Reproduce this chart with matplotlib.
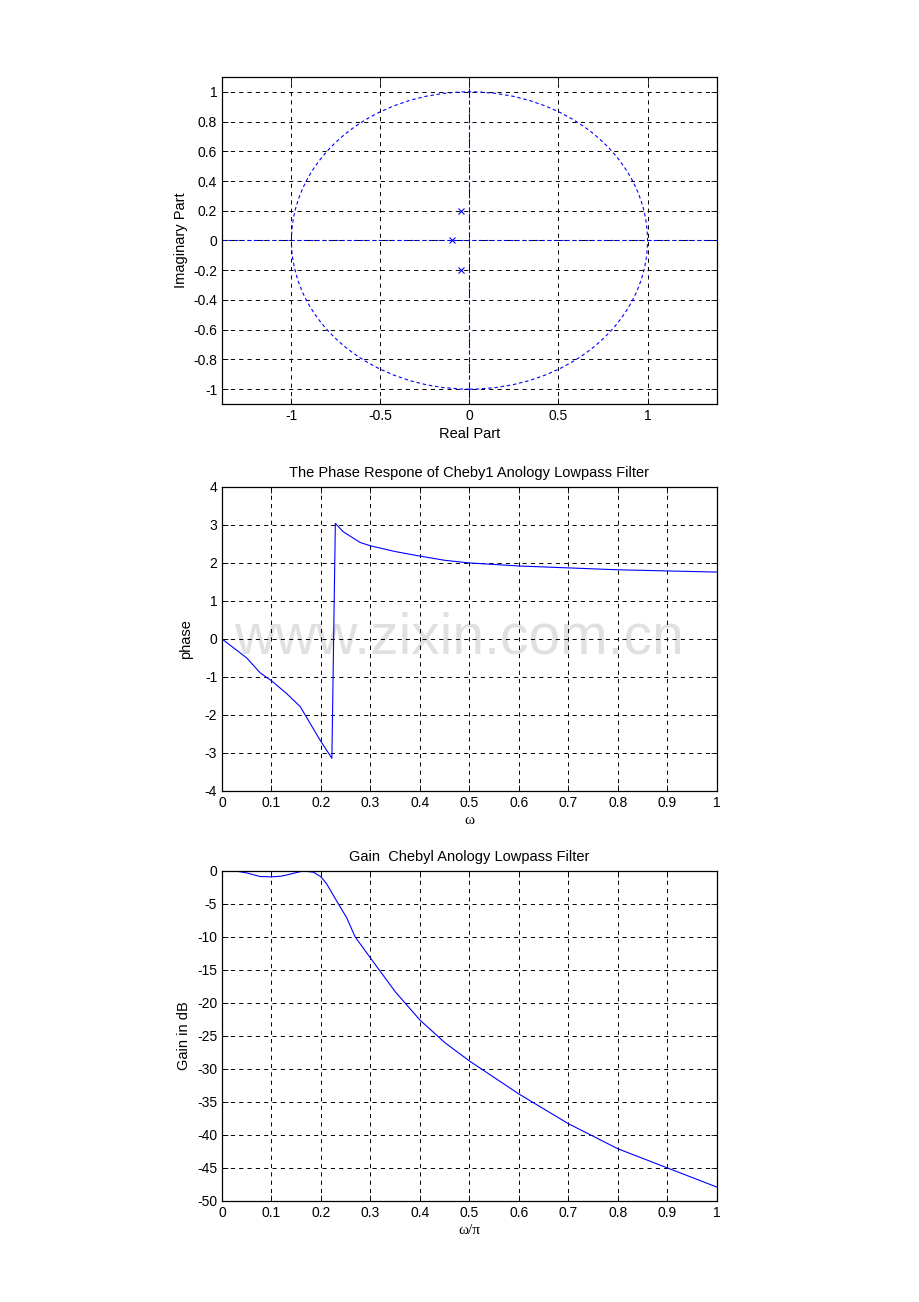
import matplotlib.pyplot as plt
from matplotlib.patches import Circle

# Pole-zero plot (poles only)
pole_re = [-0.048, -0.098, -0.048]
pole_im = [0.197, 0.0, -0.197]

# Phase response
phase_w = [0, 0.025, 0.05, 0.077, 0.1, 0.13, 0.158, 0.178, 0.198, 0.222,
           0.229, 0.245, 0.279, 0.3, 0.35, 0.4, 0.45, 0.5, 0.6, 0.7, 0.8, 0.9, 1.0]
phase = [0, -0.25, -0.5, -0.89, -1.1, -1.43, -1.78, -2.22, -2.66, -3.14,
         3.04, 2.82, 2.54, 2.45, 2.3, 2.18, 2.07, 2.0, 1.92, 1.87, 1.82, 1.79, 1.76]

# Gain in dB
gain_w = [0, 0.03, 0.05, 0.077, 0.1, 0.12, 0.14, 0.164, 0.185, 0.2, 0.211, 0.232,
          0.252, 0.269, 0.299, 0.35, 0.4, 0.45, 0.5, 0.6, 0.7, 0.8, 0.9, 1.0]
gain = [0, -0.05, -0.3, -0.85, -0.9, -0.8, -0.45, 0, -0.2, -0.9, -1.9, -4.6,
        -7.1, -10, -13.1, -18.3, -22.6, -26, -28.8, -33.8, -38.3, -42.1, -45, -47.9]

plt.rcParams['font.family'] = ['Liberation Sans', 'DejaVu Sans']
plt.rcParams['font.size'] = 10
plt.rcParams['axes.unicode_minus'] = False
plt.rcParams['lines.scale_dashes'] = False

BLUE = '#0000ff'
grid_style = dict(color='black', linestyle=(0, (3, 3)), linewidth=0.7)
blue_dash = (0, (2.5, 2))


def style_axes(ax):
    ax.tick_params(direction='in', top=True, right=True, length=4, width=0.6, labelsize=10)
    for s in ax.spines.values():
        s.set_linewidth(0.9)
    ax.grid(True, **grid_style)
    ax.set_axisbelow(True)


fig = plt.figure(figsize=(9.2, 13.02), dpi=100)

# --- top: zplane ---
ax1 = fig.add_axes([0.2413, 0.6897, 0.538, 0.2512])
ax1.add_patch(Circle((0, 0), 1, fill=False, edgecolor=BLUE, linestyle=blue_dash, linewidth=0.8))
ax1.axhline(0, color=BLUE, linestyle=blue_dash, linewidth=0.8)
ax1.axvline(0, color=BLUE, linestyle=blue_dash, linewidth=0.8)
ax1.plot(pole_re, pole_im, 'x', color=BLUE, markersize=5, markeredgewidth=0.8)
ax1.set_xlim(-1.39, 1.39)
ax1.set_ylim(-1.1, 1.1)
ax1.set_xticks([-1, -0.5, 0, 0.5, 1])
ax1.set_xticklabels(['-1', '-0.5', '0', '0.5', '1'])
yt = [-1, -0.8, -0.6, -0.4, -0.2, 0, 0.2, 0.4, 0.6, 0.8, 1]
ax1.set_yticks(yt)
ax1.set_yticklabels(['%g' % v for v in yt])
ax1.set_xlabel('Real Part', fontsize=10.5, labelpad=3)
ax1.set_ylabel('Imaginary Part', fontsize=10.5, labelpad=4)
style_axes(ax1)

# --- middle: phase ---
ax2 = fig.add_axes([0.2413, 0.3925, 0.538, 0.2335])
ax2.plot(phase_w, phase, color=BLUE, linewidth=0.8)
ax2.set_xlim(0, 1)
ax2.set_ylim(-4, 4)
xt = [0, 0.1, 0.2, 0.3, 0.4, 0.5, 0.6, 0.7, 0.8, 0.9, 1]
ax2.set_xticks(xt)
ax2.set_xticklabels(['%g' % v for v in xt])
ax2.set_yticks(range(-4, 5))
ax2.set_title('The Phase Respone of Cheby1 Anology Lowpass Filter', fontsize=10.5, pad=7)
ax2.set_xlabel('ω', family=['Liberation Serif', 'DejaVu Serif'], fontsize=11, labelpad=3)
ax2.set_ylabel('phase', fontsize=10.5, labelpad=8)
style_axes(ax2)
ax2.text(0.478, 0.5, 'www.zixin.com.cn', transform=ax2.transAxes, ha='center', va='center',
         fontsize=41, color='#d9d9d9', alpha=0.8, zorder=0)

# --- bottom: gain ---
ax3 = fig.add_axes([0.2413, 0.0776, 0.538, 0.2535])
ax3.plot(gain_w, gain, color=BLUE, linewidth=0.8)
ax3.set_xlim(0, 1)
ax3.set_ylim(-50, 0)
ax3.set_xticks(xt)
ax3.set_xticklabels(['%g' % v for v in xt])
ax3.set_yticks(range(-50, 1, 5))
ax3.set_title('Gain  Chebyl Anology Lowpass Filter', fontsize=10.5, pad=7)
ax3.set_xlabel('ω/π', family=['Liberation Serif', 'DejaVu Serif'], fontsize=11, labelpad=3)
ax3.set_ylabel('Gain in dB', fontsize=10.5, labelpad=4)
style_axes(ax3)

fig.savefig('out.png', dpi=100)
